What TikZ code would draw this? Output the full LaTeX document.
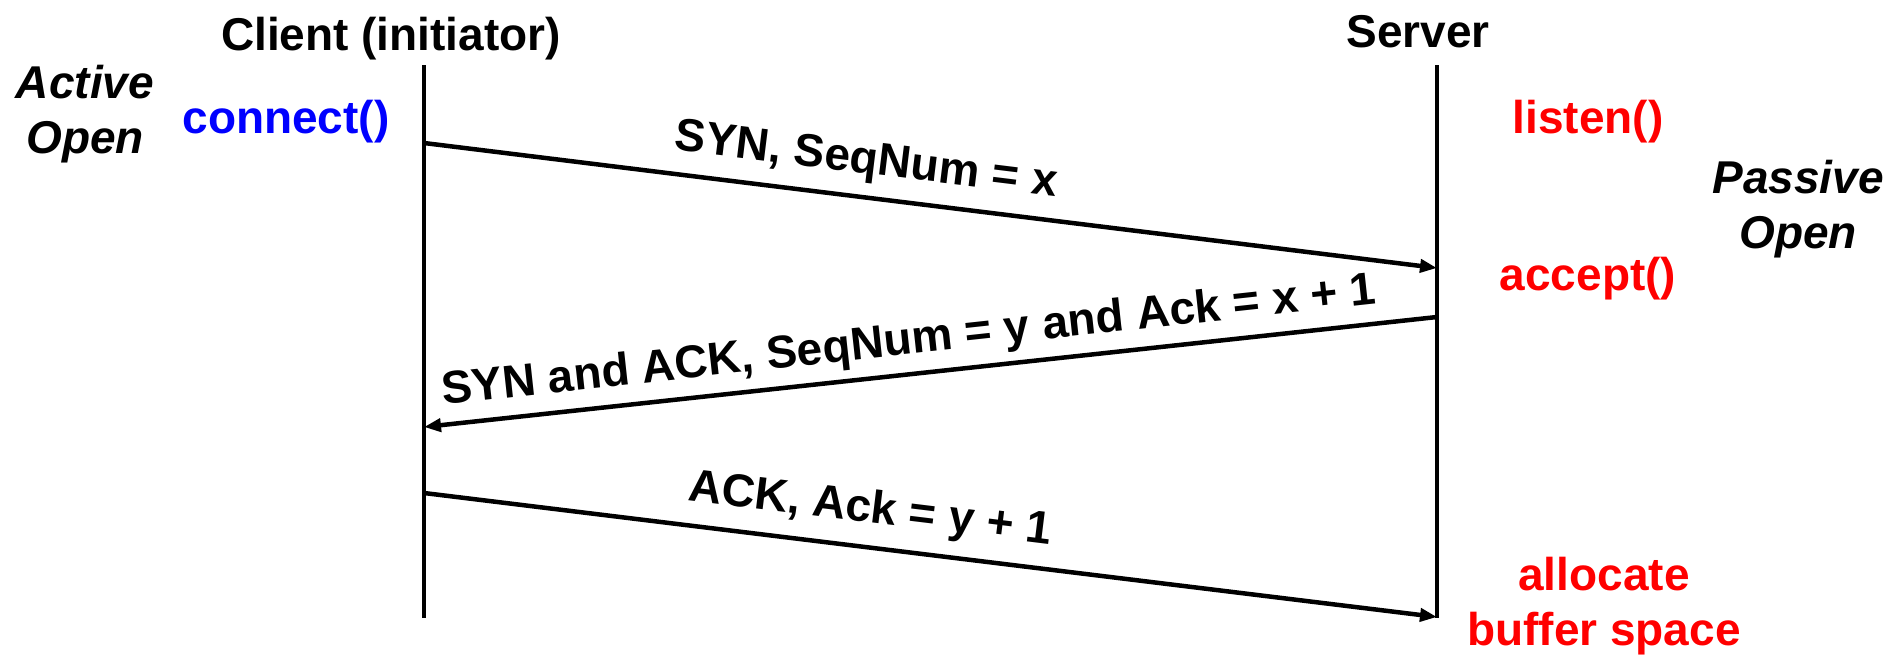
\documentclass[tikz,border=0pt]{standalone}
\usepackage{fontspec}
\setmainfont{Liberation Sans}
\usetikzlibrary{arrows.meta}
\begin{document}
\begin{tikzpicture}[x=1pt,y=-1pt,
  txt/.style={font=\fontsize{46}{55}\selectfont\bfseries, inner sep=0pt, anchor=base},
  itxt/.style={txt, font=\fontsize{46}{55}\selectfont\bfseries\itshape, align=center},
  lifeline/.style={line width=4pt},
  msg/.style={line width=4.5pt, -{Triangle[length=17pt,width=13pt]}},
  lbl/.style={font=\fontsize{46}{55}\selectfont\bfseries, inner sep=0pt, sloped, anchor=base}]
\useasboundingbox (0,0) rectangle (1904,654);
% lifelines
\coordinate (ctop) at (424,65);
\coordinate (cbot) at (424,618);
\coordinate (stop) at (1437,65);
\coordinate (sbot) at (1437,618);
\draw[lifeline] (ctop) -- (cbot);
\draw[lifeline] (stop) -- (sbot);
% titles
\node[txt] (client) at (391,50) {Client (initiator)};
\node[txt] (server) at (1418,47) {Server};
\node[itxt] (active) at (85,153) {Active\\Open};
\node[itxt] (passive) at (1798,248) {Passive\\Open};
\node[txt, text={rgb,255:red,0;green,0;blue,255}] (connect) at (286,133) {connect()};
\node[txt, text={rgb,255:red,255;green,0;blue,0}] (listen) at (1588,133) {listen()};
\node[txt, text={rgb,255:red,255;green,0;blue,0}] (accept) at (1588,290) {accept()};
\node[txt, align=center, text={rgb,255:red,255;green,0;blue,0}] (alloc) at (1604,645) {allocate\\buffer space};
% messages
\coordinate (m1s) at (424,143);
\coordinate (m1e) at (1437,268);
\coordinate (m2s) at (1437,317);
\coordinate (m2e) at (424,427);
\coordinate (m3s) at (424,493);
\coordinate (m3e) at (1437,617);
\draw[msg] (m1s) -- node[lbl, pos=0.432, yshift=24pt] (l1) {SYN, SeqNum = x} (m1e);
\draw[msg] (m2s) -- node[lbl, pos=0.518, yshift=20pt] (l2) {SYN and ACK, SeqNum = y and Ack = x + 1} (m2e);
\draw[msg] (m3s) -- node[lbl, pos=0.436, yshift=25pt] (l3) {ACK, Ack = y + 1} (m3e);
\end{tikzpicture}
\end{document}
